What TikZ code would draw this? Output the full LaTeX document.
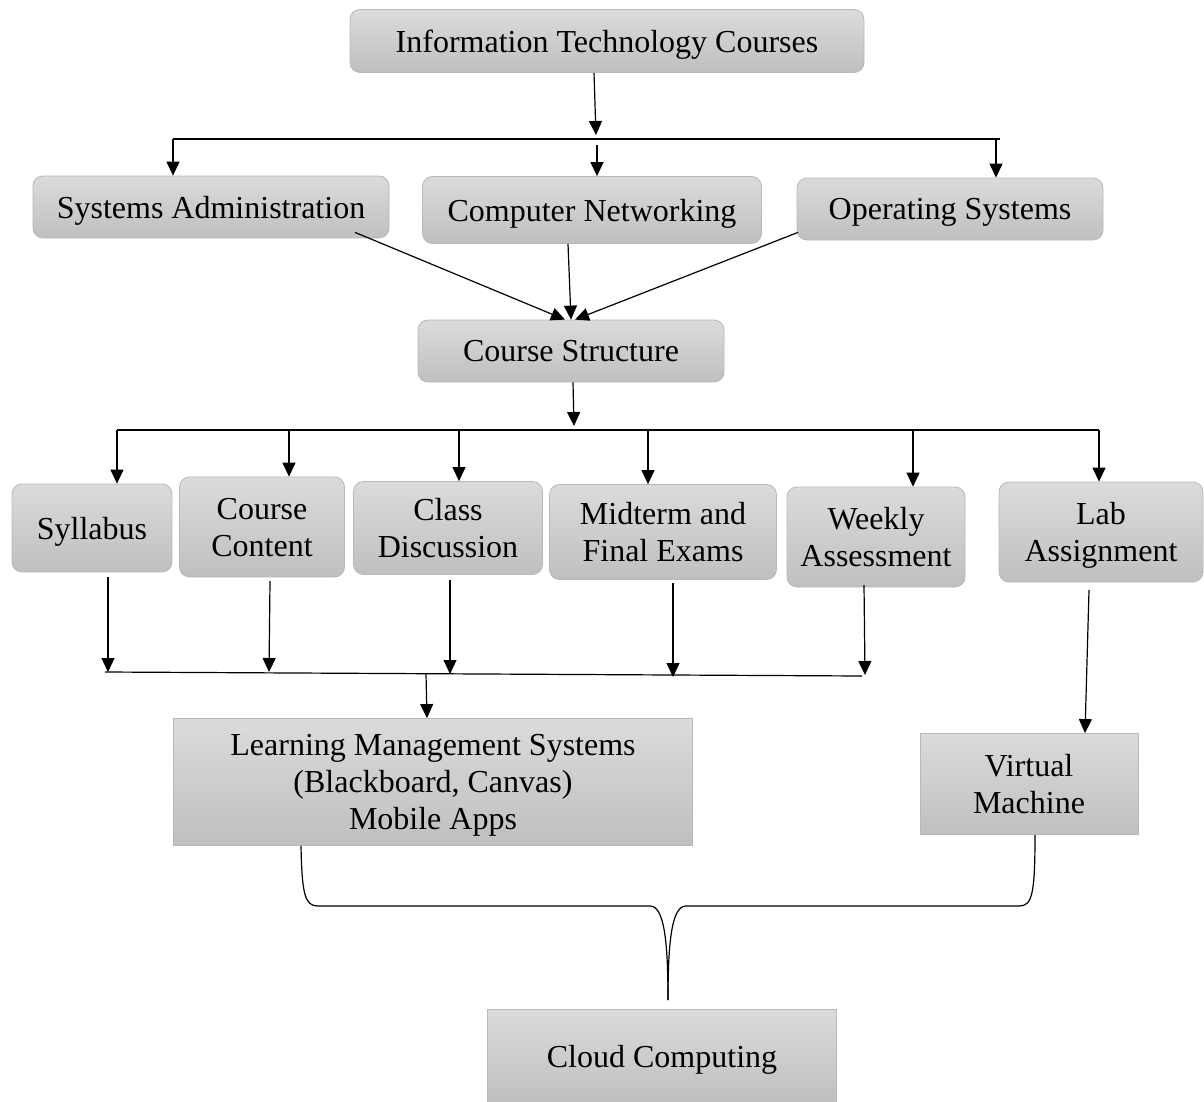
\documentclass[tikz,border=0pt]{standalone}
\usepackage{fontspec}
\setmainfont{Liberation Serif}
\usetikzlibrary{arrows.meta}

\tikzset{
  box/.style={draw=black!28, top color=black!14, bottom color=black!25,
    rounded corners=5pt, align=center, inner sep=2pt, text depth=0pt,
    font=\fontsize{16}{18.5}\selectfont},
  sqbox/.style={box, rounded corners=0pt},
  link/.style={line width=0.6pt, -{Triangle[length=7pt,width=6.5pt]}},
  bus/.style={line width=0.6pt}
}

\begin{document}
\begin{tikzpicture}[x=0.5pt, y=-0.5pt]

\useasboundingbox (0,0) rectangle (1204,1102);

\newcommand{\busone}{139}
\newcommand{\bustwo}{430}
\newcommand{\busthree}{672}

% top
\node[box, minimum width=257pt, minimum height=31.5pt] (itc) at (607,41) {Information Technology Courses};

% courses
\node[box, minimum width=178pt, minimum height=31pt] (sysadm) at (211,207) {Systems Administration};
\node[box, minimum width=169.5pt, minimum height=33.5pt] (compnet) at (592,210) {Computer Networking};
\node[box, minimum width=153pt, minimum height=31pt] (opsys) at (950,209) {Operating Systems};

\coordinate (busoneL) at (173,\busone);
\coordinate (busoneR) at (1000,\busone);
\draw[bus] (busoneL) -- (busoneR);
\draw[link] ([xshift=-6.5pt]itc.south) -- (596,\busone-4);
\draw[link] (busoneL) -- (sysadm.north -| busoneL);
\draw[link] (597,\busone+6) -- (compnet.north -| 597,0);
\draw[link] (996,\busone) -- (opsys.north -| 996,0);

% structure
\node[box, minimum width=153pt, minimum height=31pt] (struct) at (571,351) {Course Structure};

\draw[link] ([xshift=72pt,yshift=3pt]sysadm.south) -- ([xshift=-3pt]struct.north);
\draw[link] ([xshift=-12pt]compnet.south) -- (struct.north);
\draw[link] ([xshift=-76pt,yshift=4pt]opsys.south) -- ([xshift=2pt]struct.north);

% course parts
\node[box, minimum width=80pt, minimum height=44pt] (syll) at (92,528) {Syllabus};
\node[box, minimum width=82.5pt, minimum height=50pt] (content) at (262,527) {Course\\Content};
\node[box, minimum width=94.5pt, minimum height=46.5pt] (discuss) at (448,528) {Class\\Discussion};
\node[box, minimum width=113.5pt, minimum height=47.5pt] (exams) at (663,532) {Midterm and\\Final Exams};
\node[box, minimum width=89pt, minimum height=50pt] (weekly) at (876,537) {Weekly\\Assessment};
\node[box, minimum width=102pt, minimum height=50pt] (lab) at (1101,532) {Lab\\Assignment};

\coordinate (bustwoL) at (117,\bustwo);
\coordinate (bustwoR) at (1099,\bustwo);
\draw[bus] (bustwoL) -- (bustwoR);
\draw[link] ([xshift=1pt]struct.south) -- (574,\bustwo-4);
\draw[link] (bustwoL) -- (syll.north -| bustwoL);
\draw[link] (289,\bustwo) -- (content.north -| 289,0);
\draw[link] (459,\bustwo) -- (discuss.north -| 459,0);
\draw[link] (648,\bustwo) -- (exams.north -| 648,0);
\draw[link] (913,\bustwo) -- (weekly.north -| 913,0);
\draw[link] (bustwoR) -- (lab.north -| bustwoR);

% platforms
\node[sqbox, minimum width=259.5pt, minimum height=63.5pt] (lms) at (433,782)
  {Learning Management Systems\\(Blackboard, Canvas)\\Mobile Apps};
\node[sqbox, minimum width=109pt, minimum height=50.5pt] (vm) at (1029,784) {Virtual\\Machine};

\coordinate (busthreeL) at (105,\busthree);
\coordinate (busthreeR) at (862,\busthree+4);
\draw[bus] (busthreeL) -- (busthreeR);
\draw[link] (108,577) -- (108,\busthree);
\draw[link] (270,581) -- (269,\busthree);
\draw[link] (450,580) -- (450,\busthree+2);
\draw[link] (673,583) -- (673,\busthree+5);
\draw[link] (864,585) -- (865,\busthree+3);
\draw[link] (426,\busthree+2) -- ([xshift=-3pt]lms.north);
\draw[link] (1089,590) -- ([xshift=28pt]vm.north);

% cloud
\node[sqbox, minimum width=174.5pt, minimum height=47pt] (cloud) at (662,1056) {Cloud Computing};

\coordinate (tip) at (668,1000);
\draw[line width=0.6pt] ([xshift=-66pt]lms.south) .. controls (302,895) and (305,906) .. (318,906)
  -- (650,906) .. controls (664,906) and (668,940) .. (tip);
\draw[line width=0.6pt] ([xshift=3pt]vm.south) .. controls (1035,895) and (1032,906) .. (1019,906)
  -- (686,906) .. controls (672,906) and (668,940) .. (tip);

\end{tikzpicture}
\end{document}
